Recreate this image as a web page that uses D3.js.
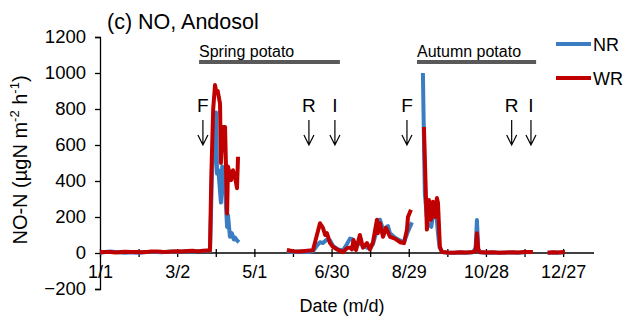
<!DOCTYPE html>
<html><head><meta charset="utf-8">
<script src="https://cdn.jsdelivr.net/npm/d3@7"></script>
<style>
body{margin:0;background:#fff;}
svg text{font-family:"Liberation Sans",Arial,sans-serif;fill:#000;}
</style></head><body>
<svg id="chart" width="629" height="320"></svg>
<script>
// ---- data ----
const xTickDays = [0, 60, 120, 180, 240, 300, 360];
const xTickLabels = ["1/1", "3/2", "5/1", "6/30", "8/29", "10/28", "12/27"];
const xMinorDays = [30, 90, 150, 210, 270, 330];
const yTicks = [-200, 0, 200, 400, 600, 800, 1000, 1200];

// WR (red) : day-of-year and NO-N flux, null = gap
const wrDays = [0,4,8,12,16,20,24,28,32,36,40,44,48,52,56,60,64,68,72,76,80,84,
  85.5,86.5,88,89.4,90.5,91.5,93.3,94,95.6,97.2,98.8,99.5,101.9,103.4,105,106.5,107.3,
  125,
  145.3,150,155.4,161,165.5,167,171,173.3,175,176.4,178.8,181,185,188.9,192,194.3,195.9,197,199,202,204.4,207.5,209.8,212.2,215.3,216,217.6,220,222.3,225.4,229.3,233.2,236.3,238.6,239.4,241.7,
  246,
  251.8,254.1,255.7,257.2,258.8,260.4,261.9,262.7,264.2,265.8,270,275,280,285,290,292,293,294,295,300,305,310,315,320,325,330,336.5,
  342,
  348,352,356,361.4];
const wrValues = [4,6,5,3,5,7,6,5,4,6,8,9,7,6,9,10,8,11,12,9,12,14,
  14,420,800,933,890,900,830,500,700,700,220,480,405,460,420,360,535,
  null,
  17,10,8,12,15,55,165,140,100,110,55,35,17,5,27,30,20,72,17,100,30,55,20,60,185,110,165,90,140,90,80,60,55,130,200,240,
  null,
  700,130,295,185,285,200,305,280,35,5,3,2,4,3,5,15,110,20,5,3,4,2,3,4,3,5,6,
  null,
  2,4,3,5];

// NR (blue)
const nrDays = [0,4,8,12,16,20,24,28,32,36,40,44,48,52,56,60,64,68,72,76,80,84,
  85.5,87,89,90.2,91,92,94,95,97.2,98.8,99.5,101,102.5,104,105,106.5,108,
  125,
  145.3,150,155.4,161,165.5,168.6,171,173.3,176.4,178.8,181,185,188.9,192,194.3,196.6,199,202,204.4,207.5,209.8,212.2,215.3,217.6,220,223.8,225.4,229.3,233.2,236.3,239.4,242.5,
  246,
  251,252.5,254.5,257.5,259,261,262.7,264,266,270,275,280,285,290,292,293,294,295,300,305,310,315,320,325,330,336.5,
  342,
  348,352,356,361.4];
const nrValues = [2,5,8,6,3,2,4,1,3,5,6,5,4,7,8,6,9,10,8,10,11,12,
  12,420,650,780,440,460,280,480,350,145,210,90,110,75,85,70,60,
  null,
  10,5,8,5,10,40,60,55,75,70,40,20,15,50,80,75,40,55,40,30,25,50,130,185,130,150,110,85,70,60,120,170,
  null,
  1000,330,165,145,220,255,110,30,5,2,1,3,2,4,30,183,25,4,2,3,1,2,3,2,4,5,
  null,
  1,3,2,4];

// crop seasons and management events
const seasonLabels = ["Spring potato", "Autumn potato"];
const seasonStart = [77, 246.4];
const seasonEnd = [186.5, 339];
const eventLabels = ["F", "R", "I", "F", "R", "I"];
const eventDays = [80, 162.4, 182.6, 238.6, 320, 335];

const seriesNames = ["NR", "WR"];
const seriesColors = ["#3A7DC2", "#C00000"];

// ---- drawing ----
const svg = d3.select("#chart");
const x = d3.scaleLinear().domain([0, 384]).range([100, 594]);
const y = d3.scaleLinear().domain([-200, 1200]).range([289, 37]);

// Y axis
const yAxis = svg.append("g").attr("transform", `translate(${x(0)},0)`)
  .call(d3.axisLeft(y).tickValues(yTicks).tickSize(5).tickPadding(9).tickFormat(d3.format("d")));
yAxis.select(".domain").attr("stroke", "#000").attr("stroke-width", 1.3);
yAxis.selectAll(".tick line").attr("stroke", "#000").attr("stroke-width", 1.3);
yAxis.selectAll("text").style("font-size", "18.5px").style("font-family", "Liberation Sans, Arial, sans-serif");

// X axis at y=0 (ticks cross)
const allTicks = xTickDays.concat(xMinorDays).sort((a, b) => a - b);
const xAxisB = svg.append("g").attr("transform", `translate(0,${y(0)})`)
  .call(d3.axisBottom(x).tickValues(allTicks).tickSize(4).tickPadding(8)
    .tickFormat(d => { const i = xTickDays.indexOf(d); return i >= 0 ? xTickLabels[i] : ""; }));
xAxisB.select(".domain").attr("stroke", "#000").attr("stroke-width", 1.3).attr("d", `M${x(0)},0H${x(384)}`);
xAxisB.selectAll(".tick line").attr("stroke", "#000").attr("stroke-width", 1.3);
xAxisB.selectAll("text").style("font-size", "18px").style("font-family", "Liberation Sans, Arial, sans-serif");
const xAxisT = svg.append("g").attr("transform", `translate(0,${y(0)})`)
  .call(d3.axisTop(x).tickValues(allTicks).tickSize(4).tickFormat(""));
xAxisT.select(".domain").remove();
xAxisT.selectAll(".tick line").attr("stroke", "#000").attr("stroke-width", 1.3);

// lines
const line = d3.line().defined(d => d[1] !== null).x(d => x(d[0])).y(d => y(d[1]));
const nrData = nrDays.map((d, i) => [d, nrValues[i]]);
const wrData = wrDays.map((d, i) => [d, wrValues[i]]);
svg.append("path").datum(nrData).attr("d", line).attr("fill", "none")
  .attr("stroke", seriesColors[0]).attr("stroke-width", 4).attr("stroke-linejoin", "round");
svg.append("path").datum(wrData).attr("d", line).attr("fill", "none")
  .attr("stroke", seriesColors[1]).attr("stroke-width", 4).attr("stroke-linejoin", "round");

// seasons
seasonLabels.forEach((lab, i) => {
  svg.append("line").attr("x1", x(seasonStart[i])).attr("x2", x(seasonEnd[i]))
    .attr("y1", 62).attr("y2", 62).attr("stroke", "#595959").attr("stroke-width", 4);
  svg.append("text").attr("x", x(seasonStart[i])).attr("y", 57).style("font-size", "16px").text(lab);
});

// events
eventLabels.forEach((lab, i) => {
  const ex = x(eventDays[i]);
  svg.append("text").attr("x", ex).attr("y", 112).attr("text-anchor", "middle").style("font-size", "19px").text(lab);
  svg.append("path").attr("d", `M${ex},120V145M${ex - 5},135L${ex},145L${ex + 5},135`)
    .attr("fill", "none").attr("stroke", "#000").attr("stroke-width", 1.2);
});

// legend
seriesNames.forEach((nm, i) => {
  const ly = 44 + i * 34;
  svg.append("line").attr("x1", 556).attr("x2", 591).attr("y1", ly).attr("y2", ly)
    .attr("stroke", seriesColors[i]).attr("stroke-width", 4);
  svg.append("text").attr("x", 593).attr("y", ly + 7).style("font-size", "18px").text(nm);
});

// titles
svg.append("text").attr("x", 107).attr("y", 29).style("font-size", "21.5px").text("(c) NO, Andosol");
svg.append("text").attr("x", 342).attr("y", 312).attr("text-anchor", "middle").style("font-size", "18px").text("Date (m/d)");
const yt = svg.append("text").attr("transform", "translate(27,160) rotate(-90)").attr("text-anchor", "middle").style("font-size", "20px");
yt.append("tspan").text("NO-N (µgN m");
yt.append("tspan").attr("dy", -8).style("font-size", "13px").text("-2");
yt.append("tspan").attr("dy", 8).text(" h");
yt.append("tspan").attr("dy", -8).style("font-size", "13px").text("-1");
yt.append("tspan").attr("dy", 8).text(")");
</script>
</body></html>
